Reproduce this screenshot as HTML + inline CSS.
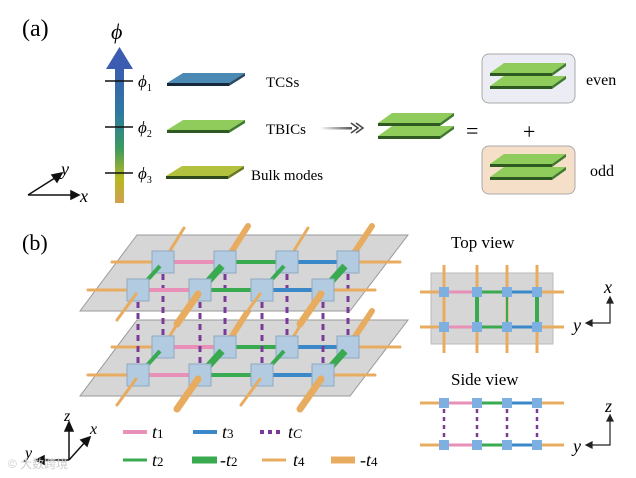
<!DOCTYPE html>
<html><head><meta charset="utf-8"><style>
html,body{margin:0;padding:0;background:#fff;}
svg{display:block;font-family:"Liberation Serif",serif;}
</style></head><body>
<svg width="636" height="478" viewBox="0 0 636 478" xmlns="http://www.w3.org/2000/svg">
<defs>
<linearGradient id="bar" x1="0" y1="0" x2="0" y2="1">
<stop offset="0" stop-color="#3b5cb0"/><stop offset="0.35" stop-color="#2e7aa0"/>
<stop offset="0.6" stop-color="#3a9a60"/><stop offset="0.82" stop-color="#b8b820"/><stop offset="1" stop-color="#d0a050"/>
</linearGradient>
<linearGradient id="garr" x1="0" y1="0" x2="1" y2="0"><stop offset="0" stop-color="#fff"/><stop offset="1" stop-color="#555"/></linearGradient>
<g id="gplate"><polygon points="0,10 62,10 76,0 14,0" fill="#8fcc5c"/><polygon points="0,10 62,10 62,13 0,13" fill="#2e5a22"/><polygon points="62,10 76,0 76,3 62,13" fill="#3d7a2e"/></g>
<g id="dplate"><use href="#gplate"/><use href="#gplate" y="13"/></g>
<rect id="nd" x="-11" y="-11" width="22" height="22" fill="#b3cbe0" stroke="#8fa9c2" stroke-width="1"/>
<rect id="sn" x="-5" y="-5" width="10" height="10" fill="#7db0e0"/>
<polygon id="plane" points="137,235 408,235 350,311 80,311" fill="#d6d6d6" stroke="#9a9a9a" stroke-width="1"/>
<g id="layer">
<g stroke="#e8ac60" stroke-linecap="round">
<line x1="163" y1="262" x2="184" y2="228" stroke-width="3"/><line x1="225" y1="262" x2="248" y2="226" stroke-width="6"/>
<line x1="287" y1="262" x2="308" y2="228" stroke-width="3"/><line x1="348" y1="262" x2="372" y2="226" stroke-width="6"/>
<line x1="112" y1="262" x2="152" y2="262" stroke-width="3"/><line x1="359" y1="262" x2="400" y2="262" stroke-width="3"/>
</g>
<line x1="174" y1="262" x2="214" y2="262" stroke="#e890b8" stroke-width="4"/>
<line x1="236" y1="262" x2="276" y2="262" stroke="#3aaa50" stroke-width="4"/>
<line x1="298" y1="262" x2="337" y2="262" stroke="#3a88c8" stroke-width="4"/>
<use href="#nd" x="163" y="262"/><use href="#nd" x="225" y="262"/><use href="#nd" x="287" y="262"/><use href="#nd" x="348" y="262"/>
<g stroke="#3aaa50" stroke-linecap="butt">
<line x1="160" y1="266" x2="141" y2="287" stroke-width="4"/><line x1="222" y1="266" x2="203" y2="287" stroke-width="7"/>
<line x1="284" y1="266" x2="265" y2="287" stroke-width="4"/><line x1="345" y1="266" x2="326" y2="287" stroke-width="7"/>
</g>
<line x1="149" y1="290" x2="189" y2="290" stroke="#e890b8" stroke-width="4"/>
<line x1="211" y1="290" x2="251" y2="290" stroke="#3aaa50" stroke-width="4"/>
<line x1="273" y1="290" x2="312" y2="290" stroke="#3a88c8" stroke-width="4"/>
<g stroke="#e8ac60" stroke-linecap="round">
<line x1="88" y1="290" x2="127" y2="290" stroke-width="3"/><line x1="334" y1="290" x2="375" y2="290" stroke-width="3"/>
</g>
<use href="#nd" x="138" y="290"/><use href="#nd" x="200" y="290"/><use href="#nd" x="262" y="290"/><use href="#nd" x="323" y="290"/>
<g stroke="#e8ac60" stroke-linecap="round">
<line x1="136" y1="294" x2="117" y2="320" stroke-width="3"/><line x1="198" y1="294" x2="177" y2="324" stroke-width="7"/>
<line x1="260" y1="294" x2="241" y2="320" stroke-width="3"/><line x1="321" y1="294" x2="300" y2="324" stroke-width="7"/>
</g>
</g>
</defs>

<!-- (a) -->
<text x="22" y="36" font-size="24">(a)</text>
<text x="111" y="39" font-size="22" font-style="italic">ϕ</text>
<rect x="115" y="66" width="9" height="137" fill="url(#bar)"/>
<polygon points="119.5,47 133,69 106,69" fill="#3b5cb0"/>
<g stroke="#111" stroke-width="1.5"><line x1="105" y1="81" x2="133" y2="81"/><line x1="105" y1="127" x2="133" y2="127"/><line x1="105" y1="173" x2="133" y2="173"/></g>
<g font-size="17" font-style="italic"><text x="138" y="87">ϕ<tspan font-size="10" font-style="normal" dy="4">1</tspan></text>
<text x="138" y="133">ϕ<tspan font-size="10" font-style="normal" dy="4">2</tspan></text>
<text x="138" y="179">ϕ<tspan font-size="10" font-style="normal" dy="4">3</tspan></text></g>
<g transform="translate(167,73)"><polygon points="0,10 62,10 78,0 16,0" fill="#4a8ab4"/><rect x="0" y="10" width="62" height="3" fill="#16283a"/><polygon points="62,10 78,0 78,3 62,13" fill="#2a4a64"/></g>
<g transform="translate(167,120)"><polygon points="0,10 62,10 78,0 16,0" fill="#8fcc5c"/><rect x="0" y="10" width="62" height="3" fill="#2e5a22"/><polygon points="62,10 78,0 78,3 62,13" fill="#3d7a2e"/></g>
<g transform="translate(166,166)"><polygon points="0,10 62,10 78,0 16,0" fill="#b2c23e"/><rect x="0" y="10" width="62" height="3" fill="#2e4a1a"/><polygon points="62,10 78,0 78,3 62,13" fill="#6a7a20"/></g>
<g font-size="15"><text x="266" y="87">TCSs</text><text x="266" y="134">TBICs</text><text x="251" y="180">Bulk modes</text></g>
<rect x="320" y="127" width="32" height="2.5" fill="url(#garr)"/>
<polyline points="351,123 358,128 351,133" fill="none" stroke="#444" stroke-width="1.5"/>
<polyline points="356,123 363,128 356,133" fill="none" stroke="#444" stroke-width="1.5"/>
<use href="#dplate" x="378" y="113"/>
<text x="466" y="138" font-size="22">=</text>
<text x="523" y="139" font-size="22">+</text>
<rect x="482" y="54" width="93" height="49" rx="7" fill="#ececf4" stroke="#aaa"/>
<use href="#dplate" x="490" y="63"/>
<text x="586" y="85" font-size="16">even</text>
<rect x="482" y="146" width="93" height="48" rx="7" fill="#f6dfc8" stroke="#aaa"/>
<use href="#dplate" x="490" y="154"/>
<text x="590" y="176" font-size="16">odd</text>
<g stroke="#111" stroke-width="1.5" fill="#111">
<line x1="28" y1="195" x2="74" y2="195"/><polygon points="79,195 71,191 71,199"/>
<line x1="28" y1="195" x2="58" y2="176"/><polygon points="62,173 52,175 57,182"/></g>
<text x="80" y="202" font-size="18" font-style="italic">x</text>
<text x="61" y="175" font-size="18" font-style="italic">y</text>

<!-- (b) -->
<text x="22" y="250" font-size="22">(b)</text>
<use href="#plane" y="85"/>
<use href="#layer" y="85"/>
<use href="#plane"/>
<g stroke="#7a3a98" stroke-width="3" stroke-dasharray="6,5">
<line x1="163" y1="274" x2="163" y2="336"/><line x1="225" y1="274" x2="225" y2="336"/><line x1="287" y1="274" x2="287" y2="336"/><line x1="348" y1="274" x2="348" y2="336"/>
<line x1="138" y1="302" x2="138" y2="364"/><line x1="200" y1="302" x2="200" y2="364"/><line x1="262" y1="302" x2="262" y2="364"/><line x1="323" y1="302" x2="323" y2="364"/>
</g>
<use href="#layer"/>

<!-- legend -->
<g stroke-width="4">
<line x1="123" y1="432" x2="147" y2="432" stroke="#e890b8"/>
<line x1="193" y1="432" x2="217" y2="432" stroke="#3a88c8"/>
<line x1="260" y1="432" x2="284" y2="432" stroke="#7a3a98" stroke-dasharray="4,4"/>
<line x1="123" y1="460" x2="147" y2="460" stroke="#3aaa50" stroke-width="3"/>
<line x1="192" y1="460" x2="217" y2="460" stroke="#3aaa50" stroke-width="7"/>
<line x1="262" y1="460" x2="286" y2="460" stroke="#e8ac60" stroke-width="3"/>
<line x1="331" y1="460" x2="355" y2="460" stroke="#e8ac60" stroke-width="7"/>
</g>
<g font-size="18" font-style="italic">
<text x="152" y="438">t<tspan font-size="13" font-style="normal">1</tspan></text>
<text x="222" y="438">t<tspan font-size="13" font-style="normal">3</tspan></text>
<text x="288" y="438">t<tspan font-size="13">C</tspan></text>
<text x="152" y="466">t<tspan font-size="13" font-style="normal">2</tspan></text>
<text x="220" y="466"><tspan font-style="normal">-</tspan>t<tspan font-size="13" font-style="normal">2</tspan></text>
<text x="293" y="466">t<tspan font-size="13" font-style="normal">4</tspan></text>
<text x="360" y="466"><tspan font-style="normal">-</tspan>t<tspan font-size="13" font-style="normal">4</tspan></text>
</g>
<g stroke="#111" stroke-width="1.5" fill="#111">
<line x1="69" y1="460" x2="69" y2="428"/><polygon points="69,422 65,431 73,431"/>
<line x1="69" y1="460" x2="86" y2="441"/><polygon points="90,437 81,440 87,446"/>
<line x1="69" y1="460" x2="42" y2="460"/><polygon points="36,460 44,456 44,464"/></g>
<g font-size="16" font-style="italic"><text x="64" y="421">z</text><text x="90" y="434">x</text><text x="25" y="458">y</text></g>
<text x="8" y="468" font-size="12" fill="#ccc" font-family="'Liberation Sans','Noto Sans CJK SC',sans-serif">© 大数跨境</text>

<!-- top view -->
<text x="451" y="248" font-size="17">Top view</text>
<rect x="431" y="273" width="122" height="71" fill="#d6d6d6" stroke="#bbb"/>
<g stroke="#e8ac60" stroke-width="3">
<line x1="444" y1="265" x2="444" y2="353"/><line x1="477" y1="265" x2="477" y2="353"/><line x1="507" y1="265" x2="507" y2="353"/><line x1="537" y1="265" x2="537" y2="353"/>
<line x1="420" y1="292" x2="564" y2="292"/><line x1="420" y1="327" x2="564" y2="327"/></g>
<g stroke-width="3"><line x1="444" y1="292" x2="477" y2="292" stroke="#e890b8"/><line x1="444" y1="327" x2="477" y2="327" stroke="#e890b8"/>
<line x1="477" y1="292" x2="507" y2="292" stroke="#3aaa50"/><line x1="477" y1="327" x2="507" y2="327" stroke="#3aaa50"/>
<line x1="507" y1="292" x2="537" y2="292" stroke="#3a88c8"/><line x1="507" y1="327" x2="537" y2="327" stroke="#3a88c8"/>
<line x1="477" y1="292" x2="477" y2="327" stroke="#3aaa50" stroke-width="4"/><line x1="507" y1="292" x2="507" y2="327" stroke="#3aaa50" stroke-width="2"/><line x1="537" y1="292" x2="537" y2="327" stroke="#3aaa50" stroke-width="4"/></g>
<use href="#sn" x="444" y="292"/><use href="#sn" x="477" y="292"/><use href="#sn" x="507" y="292"/><use href="#sn" x="537" y="292"/>
<use href="#sn" x="444" y="327"/><use href="#sn" x="477" y="327"/><use href="#sn" x="507" y="327"/><use href="#sn" x="537" y="327"/>
<g stroke="#222" stroke-width="1.2" fill="#222"><polyline points="610,301 610,323 590,323" fill="none"/><polygon points="610,297 607,303 613,303"/><polygon points="586,323 592,320 592,326"/></g>
<g font-size="18" font-style="italic"><text x="604" y="293">x</text><text x="573" y="331">y</text></g>

<!-- side view -->
<text x="451" y="385" font-size="17">Side view</text>
<g stroke="#e8ac60" stroke-width="3"><line x1="420" y1="403" x2="564" y2="403"/><line x1="420" y1="445" x2="564" y2="445"/></g>
<g stroke-width="3"><line x1="444" y1="403" x2="477" y2="403" stroke="#e890b8"/><line x1="444" y1="445" x2="477" y2="445" stroke="#e890b8"/>
<line x1="477" y1="403" x2="507" y2="403" stroke="#3aaa50"/><line x1="477" y1="445" x2="507" y2="445" stroke="#3aaa50"/>
<line x1="507" y1="403" x2="537" y2="403" stroke="#3a88c8"/><line x1="507" y1="445" x2="537" y2="445" stroke="#3a88c8"/></g>
<g stroke="#7a3a98" stroke-width="2.5" stroke-dasharray="4,4"><line x1="444" y1="409" x2="444" y2="440"/><line x1="477" y1="409" x2="477" y2="440"/><line x1="507" y1="409" x2="507" y2="440"/><line x1="537" y1="409" x2="537" y2="440"/></g>
<use href="#sn" x="444" y="403"/><use href="#sn" x="477" y="403"/><use href="#sn" x="507" y="403"/><use href="#sn" x="537" y="403"/>
<use href="#sn" x="444" y="445"/><use href="#sn" x="477" y="445"/><use href="#sn" x="507" y="445"/><use href="#sn" x="537" y="445"/>
<g stroke="#222" stroke-width="1.2" fill="#222"><polyline points="610,419 610,445 590,445" fill="none"/><polygon points="610,415 607,421 613,421"/><polygon points="586,445 592,442 592,448"/></g>
<g font-size="18" font-style="italic"><text x="605" y="412">z</text><text x="573" y="452">y</text></g>
</svg>
</body></html>
